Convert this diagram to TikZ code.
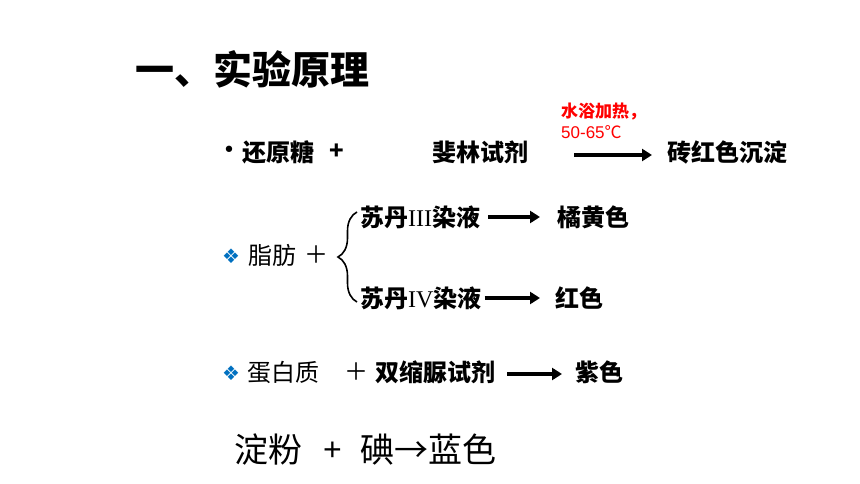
\documentclass[tikz,border=0pt]{standalone}
\usepackage{fontspec}
\setmainfont{Liberation Sans}
\newfontfamily\cjk{Noto Sans CJK SC}
\newfontfamily\symfont{DejaVu Sans}
\newfontfamily\serifnum{Liberation Serif}
\usetikzlibrary{arrows.meta}
\usetikzlibrary{decorations.pathreplacing}
\definecolor{bul}{RGB}{0,112,192}
\definecolor{cond}{RGB}{255,0,0}

\begin{document}
\begin{tikzpicture}[
    x=1pt, y=-1pt,
    t/.style={
        anchor=west, inner sep=0pt,
        font=\fontsize{24}{28}\selectfont\cjk\bfseries
    },
    r/.style={
        anchor=west, inner sep=0pt,
        font=\fontsize{24}{28}\selectfont\cjk
    },
    c/.style={
        anchor=west, inner sep=0pt, color=cond,
        font=\fontsize{17}{19}\selectfont\cjk\bfseries
    },
    b/.style={inner sep=0pt, color=bul, font=\fontsize{20}{22}\selectfont\symfont},
    a/.style={line width=3.6pt, -{Triangle[length=10pt,width=12pt]}}
]
    \useasboundingbox (0,0) rectangle (860,484);

    \node [anchor=west, inner sep=0pt, font=\fontsize{39}{45}\selectfont\cjk\bfseries]
        (title) at (135,69) {一、实验原理};

    \node [inner sep=0pt, font=\fontsize{22}{24}\selectfont\symfont] (dot) at (229,152) {•};
    \node [t] (sugar)   at (242,152) {还原糖};
    \node [t] (plus1)   at (329,152) {+};
    \node [t] (fehling) at (432,152) {斐林试剂};
    \node [c] (heat)    at (561,112) {水浴加热，};
    \node [c, font=\fontsize{17}{19}\selectfont] (temp) at (561,132) {50-65{\cjk ℃}};
    \node [t] (brick)   at (667,152) {砖红色沉淀};

    \node [b] (bul1)   at (231,256) {❖};
    \node [r] (fat)    at (248,255) {脂肪};
    \node [r] (plus2)  at (304,255) {＋};
    \node [t] (sudan3) at (360,217) {苏丹{\serifnum\mdseries III}染液};
    \node [t] (orange) at (557,217) {橘黄色};
    \node [t] (sudan4) at (360,298) {苏丹{\serifnum\mdseries IV}染液};
    \node [t] (red)    at (555,298) {红色};
    \coordinate (bt) at (357,212);
    \coordinate (bb) at (357,302);

    \node [b] (bul2)    at (231,373) {❖};
    \node [r] (protein) at (247,372) {蛋白质};
    \node [r] (plus3)   at (344,372) {＋};
    \node [t] (biuret)  at (375,372) {双缩脲试剂};
    \node [t] (purple)  at (575,372) {紫色};

    \node [anchor=west, inner sep=0pt, font=\fontsize{34}{40}\selectfont\cjk]
        (starch) at (234,450) {淀粉};
    \node [anchor=west, inner sep=0pt, font=\fontsize{32}{36}\selectfont] (plus4) at (323,451) {+};
    \node [anchor=west, inner sep=0pt, font=\fontsize{34}{40}\selectfont\cjk]
        (iodine) at (360,450) {碘→蓝色};

    \draw [a, shorten <=46pt, shorten >=15pt] ([yshift=-3pt]fehling.east) -- ([yshift=-3pt]brick.west);
    \draw [a, shorten <=8pt, shorten >=17pt] (sudan3.east) -- (orange.west);
    \draw [a, shorten <=3pt, shorten >=15pt] (sudan4.east) -- (red.west);
    \draw [a, shorten <=12pt, shorten >=13pt] ([yshift=-2pt]biuret.east) -- ([yshift=-2pt]purple.west);
    \draw [line width=1.6pt, decorate, decoration={brace, amplitude=19pt}] (bb) -- (bt);

\end{tikzpicture}
\end{document}
